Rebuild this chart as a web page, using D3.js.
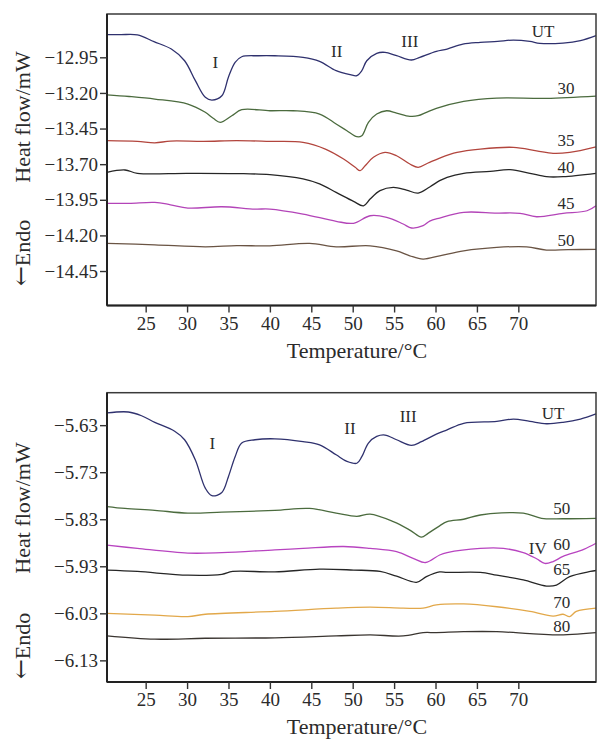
<!DOCTYPE html>
<html lang="en">
<head>
<meta charset="utf-8">
<title>DSC curves</title>
<script src="https://d3js.org/d3.v7.min.js"></script>
<style>
  body { margin: 0; background: #fff; }
  svg text { font-family: "Liberation Serif", "Times New Roman", serif; fill: #2b2b2b; }
  .axis line { stroke: #333; stroke-width: 1.4px; }
  .axis text { font-size: 19px; }
  .curve { fill: none; stroke-width: 1.3px; stroke-linejoin: round; }
</style>
</head>
<body>
<div id="chart"></div>
<script>
// ---- data: [temperature °C, heat flow mW] ----
var xTicks = [25, 30, 35, 40, 45, 50, 55, 60, 65, 70];
var topTicks = [-12.95, -13.20, -13.45, -13.70, -13.95, -14.20, -14.45];
var bottomTicks = [-5.63, -5.73, -5.83, -5.93, -6.03, -6.13];

var topUT = [[20.33,-12.791],[22,-12.791],[24,-12.793],[26,-12.84],[28.1,-12.892],[29.7,-12.974],[31,-13.114],[32.2,-13.231],[33,-13.25],[34.2,-13.22],[35,-13.088],[35.8,-12.985],[36.6,-12.946],[38.6,-12.939],[40.6,-12.939],[44,-12.95],[46,-12.978],[48,-13.044],[49.7,-13.072],[50.5,-13.079],[51.1,-13.044],[51.7,-12.974],[52.9,-12.922],[53.9,-12.915],[55.3,-12.939],[57.1,-12.969],[58.1,-12.95],[60.1,-12.908],[61.4,-12.892],[63.3,-12.857],[65.4,-12.845],[67.5,-12.838],[69.4,-12.829],[71.4,-12.838],[72.6,-12.852],[75.4,-12.85],[77.5,-12.833],[79.38,-12.798]];
var top30 = [[20.33,-13.213],[23,-13.225],[26.1,-13.243],[30.1,-13.278],[32.2,-13.336],[33.2,-13.38],[34,-13.406],[35.4,-13.36],[36.6,-13.318],[40,-13.325],[42.8,-13.325],[46,-13.348],[48,-13.418],[49.3,-13.465],[50.5,-13.507],[51.1,-13.5],[51.9,-13.406],[52.9,-13.348],[54.1,-13.325],[55.3,-13.341],[56.9,-13.364],[57.9,-13.36],[58.9,-13.336],[60.1,-13.308],[63.4,-13.259],[67.4,-13.236],[73.4,-13.238],[79.38,-13.222]];
var top35 = [[20.33,-13.535],[24,-13.54],[26.1,-13.55],[28,-13.538],[32,-13.54],[36,-13.535],[40,-13.54],[44,-13.547],[46.7,-13.594],[48.9,-13.664],[50.3,-13.722],[50.9,-13.746],[51.5,-13.711],[52.5,-13.652],[53.9,-13.617],[55.3,-13.641],[56.9,-13.699],[57.9,-13.722],[59.1,-13.692],[60.5,-13.657],[62.6,-13.617],[65.4,-13.594],[69.4,-13.582],[72.2,-13.606],[74.2,-13.624],[76.2,-13.617],[79.38,-13.578]];
var top40 = [[20.33,-13.757],[22.5,-13.741],[24,-13.764],[30,-13.764],[36,-13.766],[40,-13.774],[44,-13.804],[46,-13.839],[48,-13.898],[50.1,-13.961],[51.3,-13.992],[52.1,-13.945],[53.3,-13.886],[54.9,-13.863],[56.5,-13.882],[57.9,-13.903],[59.3,-13.86],[60.5,-13.816],[61.4,-13.792],[63.4,-13.764],[66.6,-13.75],[69,-13.739],[71.4,-13.764],[73.4,-13.788],[75.4,-13.788],[79.38,-13.764]];
var top45 = [[20.33,-13.975],[23,-13.975],[26.1,-13.968],[28,-13.985],[30.1,-14.008],[34.2,-13.999],[38.2,-14.015],[40,-14.015],[44,-14.05],[48,-14.101],[50.1,-14.115],[52.1,-14.062],[54.1,-14.073],[56.1,-14.12],[57.1,-14.148],[58.5,-14.132],[59.3,-14.1],[60.5,-14.078],[63.4,-14.038],[67.4,-14.043],[70.2,-14.045],[72.2,-14.069],[75.4,-14.045],[78.3,-14.027],[79.38,-13.992]];
var top50 = [[20.33,-14.256],[26.1,-14.266],[32.2,-14.28],[36,-14.272],[40,-14.273],[44.8,-14.256],[48,-14.28],[52.1,-14.273],[55.3,-14.308],[56.9,-14.343],[58.5,-14.366],[60.5,-14.343],[63.4,-14.308],[67.4,-14.284],[71,-14.28],[73.4,-14.303],[76,-14.3],[79.38,-14.298]];

var botUT = [[20.33,-5.604],[22.9,-5.602],[24.5,-5.61],[26.1,-5.624],[28.5,-5.643],[29.7,-5.661],[31,-5.704],[32.2,-5.764],[33,-5.78],[34.2,-5.773],[35,-5.739],[35.8,-5.697],[36.6,-5.668],[38.2,-5.661],[40.6,-5.659],[44,-5.665],[46,-5.672],[48,-5.693],[49.3,-5.707],[50.5,-5.711],[51.1,-5.697],[51.9,-5.668],[52.9,-5.654],[53.9,-5.651],[55.3,-5.661],[57.1,-5.673],[58.3,-5.665],[60.1,-5.649],[61.4,-5.64],[63.4,-5.626],[67.4,-5.622],[69.4,-5.617],[71.4,-5.622],[73.4,-5.627],[75.4,-5.624],[77.5,-5.617],[79.38,-5.606]];
var bot50 = [[20.33,-5.803],[22.5,-5.807],[26.1,-5.811],[30.1,-5.817],[34.2,-5.815],[40.6,-5.811],[44.8,-5.807],[48,-5.817],[50.5,-5.824],[52.1,-5.819],[54.9,-5.835],[56.9,-5.853],[58.3,-5.868],[59.1,-5.86],[60.5,-5.844],[61.4,-5.835],[63.4,-5.83],[65.4,-5.821],[70.6,-5.817],[72.8,-5.828],[75.4,-5.829],[79.38,-5.828]];
var bot60 = [[20.33,-5.885],[24,-5.892],[30.1,-5.902],[34.2,-5.901],[40.6,-5.895],[44,-5.892],[48.9,-5.888],[52.1,-5.892],[55.3,-5.899],[57.3,-5.913],[58.8,-5.922],[60.5,-5.906],[61.4,-5.901],[65.4,-5.892],[68.2,-5.892],[70.6,-5.901],[72.2,-5.914],[73.2,-5.924],[74.2,-5.92],[75.4,-5.909],[77.9,-5.894],[79.38,-5.881]];
var bot65 = [[20.33,-5.938],[24,-5.941],[30.1,-5.949],[34.2,-5.947],[35.5,-5.941],[40.6,-5.942],[46,-5.936],[50.1,-5.938],[53.3,-5.941],[55.3,-5.951],[57.7,-5.964],[58.9,-5.952],[60.5,-5.942],[61.4,-5.943],[65.4,-5.943],[67.4,-5.949],[70.6,-5.959],[73.4,-5.972],[74.6,-5.97],[76.2,-5.952],[78.7,-5.941],[79.38,-5.939]];
var bot70 = [[20.33,-6.03],[26.1,-6.034],[30.1,-6.037],[32.2,-6.032],[40.6,-6.026],[48,-6.019],[52.1,-6.017],[56.1,-6.019],[58.5,-6.019],[60.1,-6.012],[63.4,-6.01],[67.4,-6.016],[71.4,-6.026],[74.2,-6.036],[75.4,-6.032],[76.2,-6.037],[77,-6.026],[79.38,-6.019]];
var bot80 = [[20.33,-6.078],[26.1,-6.085],[32.2,-6.083],[40.6,-6.082],[48,-6.078],[52.1,-6.076],[56.1,-6.078],[58.5,-6.071],[60.1,-6.071],[63.4,-6.069],[67.4,-6.069],[71.4,-6.073],[74.6,-6.076],[79.38,-6.071]];

// annotations: [text, T, value]
var topNotes = [["I",33.4,-12.981],["II",48.07,-12.904],["III",56.9,-12.833],["UT",73.0,-12.763],
  ["30",75.76,-13.166],["35",75.76,-13.531],["40",75.76,-13.718],["45",75.76,-13.975],["50",75.76,-14.233]];
var botNotes = [["I",33.04,-5.667],["II",49.67,-5.636],["III",56.7,-5.611],["UT",74.2,-5.604],
  ["50",75.24,-5.807],["IV",72.34,-5.892],["60",75.24,-5.883],["65",75.24,-5.936],["70",75.24,-6.007],["80",75.24,-6.056]];

var w = 598, h = 740;
var svg = d3.select("#chart").append("svg").attr("width", w).attr("height", h);

function drawPanel(p) {
  var x = d3.scaleLinear().domain([20.33, 79.38]).range([107, 596]);
  var y = d3.scaleLinear().domain(p.domain).range([p.bottom, p.top]);
  var g = svg.append("g");

  var line = d3.line()
    .x(function(d) { return x(d[0]) })
    .y(function(d) { return y(d[1]) })
    .curve(d3.curveCatmullRom.alpha(0.5));

  p.series.forEach(function(s) {
    g.append("path").attr("class", "curve").attr("d", line(s.data)).attr("stroke", s.color);
  });

  // frame
  g.append("rect")
    .attr("x", 107).attr("y", p.top)
    .attr("width", 596 - 107).attr("height", p.bottom - p.top)
    .attr("fill", "none").attr("stroke", "#3a3a3a").attr("stroke-width", 1.5);
  g.append("line").attr("x1", 107).attr("x2", 107).attr("y1", p.top).attr("y2", p.bottom)
    .attr("stroke", "#222").attr("stroke-width", 2);
  g.append("line").attr("x1", 107).attr("x2", 596).attr("y1", p.bottom).attr("y2", p.bottom)
    .attr("stroke", "#222").attr("stroke-width", 2);

  var xAxis = d3.axisBottom(x).tickValues(xTicks).tickSize(7).tickPadding(4).tickSizeOuter(0);
  g.append("g").attr("class", "axis").attr("transform", "translate(0," + p.bottom + ")")
    .call(xAxis).call(function(a) { a.select(".domain").remove() });

  var yAxis = d3.axisLeft(y).tickValues(p.ticks).tickFormat(d3.format(".2f"))
    .tickSize(7).tickPadding(2).tickSizeOuter(0);
  g.append("g").attr("class", "axis").attr("transform", "translate(107,0)")
    .call(yAxis).call(function(a) { a.select(".domain").remove() });

  g.selectAll(".note").data(p.notes).enter().append("text")
    .attr("x", function(d) { return x(d[1]) })
    .attr("y", function(d) { return y(d[2]) })
    .attr("dy", "0.35em")
    .attr("text-anchor", "middle")
    .style("font-size", "17px")
    .text(function(d) { return d[0] });

  g.append("text").attr("x", 357).attr("y", p.bottom + 52)
    .attr("text-anchor", "middle").style("font-size", "22px").text("Temperature/°C");

  g.append("text").attr("transform", "translate(30," + p.heatY + ") rotate(-90)")
    .attr("text-anchor", "middle").style("font-size", "22px").text("Heat  flow/mW");
  var endo = g.append("text").attr("transform", "translate(30," + p.endoY + ") rotate(-90)")
    .attr("text-anchor", "middle").style("font-size", "22px");
  endo.append("tspan").style("font-family", "'DejaVu Serif', serif").style("font-size", "24px")
    .attr("dy", "-1").text("\u2190");
  endo.append("tspan").attr("dy", "1").text("Endo");
}

drawPanel({
  top: 14, bottom: 305.5, domain: [-14.692, -12.646], ticks: topTicks,
  heatY: 117, endoY: 253, notes: topNotes,
  series: [
    { data: topUT, color: "#2f316e" },
    { data: top30, color: "#4b6b3e" },
    { data: top35, color: "#b2453d" },
    { data: top40, color: "#262626" },
    { data: top45, color: "#b344b8" },
    { data: top50, color: "#6a5444" }
  ]
});

drawPanel({
  top: 392.7, bottom: 682, domain: [-6.176, -5.561], ticks: bottomTicks,
  heatY: 508, endoY: 646, notes: botNotes,
  series: [
    { data: botUT, color: "#2f316e" },
    { data: bot50, color: "#4b6b3e" },
    { data: bot60, color: "#b844c0" },
    { data: bot65, color: "#262626" },
    { data: bot70, color: "#e2a84a" },
    { data: bot80, color: "#3a3530" }
  ]
});
</script>
</body>
</html>
